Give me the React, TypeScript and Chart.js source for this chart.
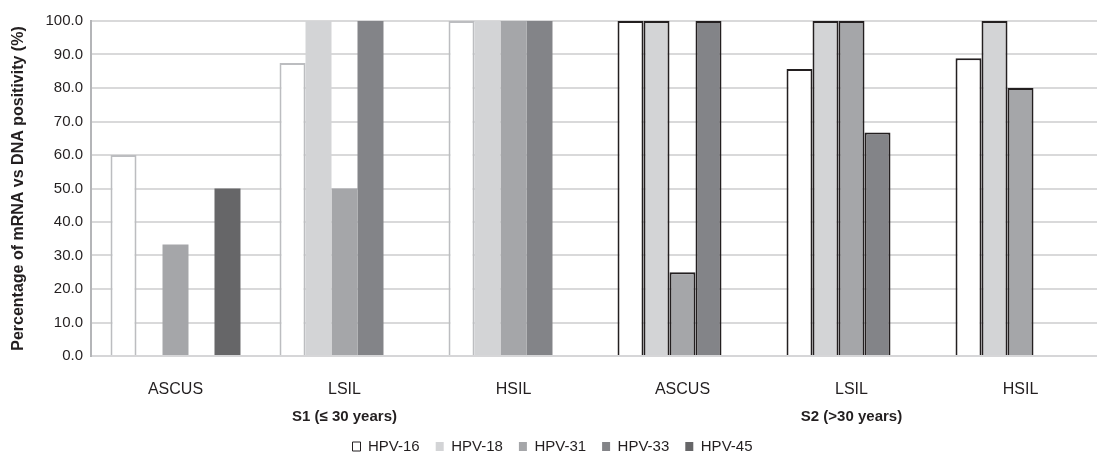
import React, { useEffect, useRef } from "react";
import { Chart, registerables } from "chart.js";

Chart.register(...registerables);

const categories = ["ASCUS", "LSIL", "HSIL", "ASCUS", "LSIL", "HSIL"];
const groupLabels = ["S1 (≤ 30 years)", "S2 (>30 years)"];
const groupCenterIndex = [1, 4];
const seriesNames = ["HPV-16", "HPV-18", "HPV-31", "HPV-33", "HPV-45"];
const hpv16 = [60.0, 87.5, 100.0, 100.0, 85.7, 88.9];
const hpv18 = [null, 100.0, 100.0, 100.0, 100.0, 100.0];
const hpv31 = [33.3, 50.0, 100.0, 25.0, 100.0, 80.0];
const hpv33 = [null, 100.0, 100.0, 100.0, 66.7, null];
const hpv45 = [50.0, null, null, null, null, null];
const yTicks = [0, 10, 20, 30, 40, 50, 60, 70, 80, 90, 100];

const fills = ["#ffffff", "#d3d4d6", "#a5a6a9", "#838488", "#666668"];
const TEXT = "#231f20";
const FONT = '"Liberation Sans", Arial, sans-serif';

export default function App() {
  const ref = useRef<HTMLCanvasElement | null>(null);

  useEffect(() => {
    document.body.style.margin = "0";
    document.documentElement.style.overflow = "hidden";
    const canvas = ref.current;
    if (!canvas) return;
    const series = [hpv16, hpv18, hpv31, hpv33, hpv45];

    const groupLabelPlugin = {
      id: "groupLabels",
      afterDraw(chart: any) {
        const { ctx, scales, chartArea } = chart;
        ctx.save();
        ctx.font = `bold 15px ${FONT}`;
        ctx.fillStyle = TEXT;
        ctx.textAlign = "center";
        ctx.textBaseline = "middle";
        groupLabels.forEach((g, i) => {
          const x = scales.x.getPixelForValue(groupCenterIndex[i]);
          ctx.fillText(g, x, chartArea.bottom + 61);
        });
        ctx.restore();
      },
    };

    const chart = new Chart(canvas, {
      type: "bar",
      data: {
        labels: categories,
        datasets: series.map((d, si) => ({
          label: seriesNames[si],
          data: d,
          backgroundColor: fills[si],
          borderColor: (c: any) =>
            c.dataIndex !== undefined && c.dataIndex >= 3
              ? TEXT
              : si === 0
              ? "#bcbdc0"
              : fills[si],
          borderWidth: (c: any) =>
            c.dataIndex !== undefined && c.dataIndex >= 3 ? 2 : si === 0 ? 2 : 0,
          borderSkipped: "start",
          categoryPercentage: 0.769,
          barPercentage: 1.0,
        })),
      },
      options: {
        animation: false,
        responsive: false,
        devicePixelRatio: 1,
        layout: { padding: { left: 0, right: 0, top: 21, bottom: -4 } },
        plugins: {
          tooltip: { enabled: false },
          legend: {
            position: "bottom",
            labels: {
              font: { size: 15, family: FONT },
              color: TEXT,
              boxWidth: 8,
              boxHeight: 9,
              padding: 16,
              generateLabels: () =>
                seriesNames.map((n, i) => ({
                  text: n,
                  fillStyle: fills[i],
                  strokeStyle: i === 0 ? TEXT : fills[i],
                  lineWidth: i === 0 ? 1 : 0,
                  hidden: false,
                  datasetIndex: i,
                  fontColor: TEXT,
                })),
            },
          },
        },
        scales: {
          x: {
            grid: { display: false, drawTicks: false },
            border: { display: true, color: "#d6d6d8", width: 2 },
            ticks: {
              font: { size: 16, family: FONT },
              color: TEXT,
              padding: 24,
              maxRotation: 0,
              autoSkip: false,
            },
            afterFit: (s: any) => {
              s.height = 67;
            },
          },
          y: {
            min: 0,
            max: 100,
            afterBuildTicks: (s: any) => {
              s.ticks = yTicks.map((v) => ({ value: v }));
            },
            grid: { color: "#d9d9da", lineWidth: 2, drawTicks: false },
            border: { display: true, color: "#b4b5b8", width: 2 },
            ticks: {
              font: { size: 15, family: FONT },
              color: TEXT,
              padding: 8,
              callback: (v: any) => Number(v).toFixed(1),
            },
            title: {
              display: true,
              text: "Percentage of mRNA vs DNA positivity (%)",
              font: { size: 16, weight: "bold", family: FONT },
              color: TEXT,
              padding: { top: 9, bottom: 0 },
            },
            afterFit: (s: any) => {
              s.width = 91;
            },
          },
        },
      },
      plugins: [groupLabelPlugin],
    });
    return () => chart.destroy();
  }, []);

  return (
    <div style={{ width: 1105, height: 460 }}>
      <canvas ref={ref} width={1105} height={460} />
    </div>
  );
}
